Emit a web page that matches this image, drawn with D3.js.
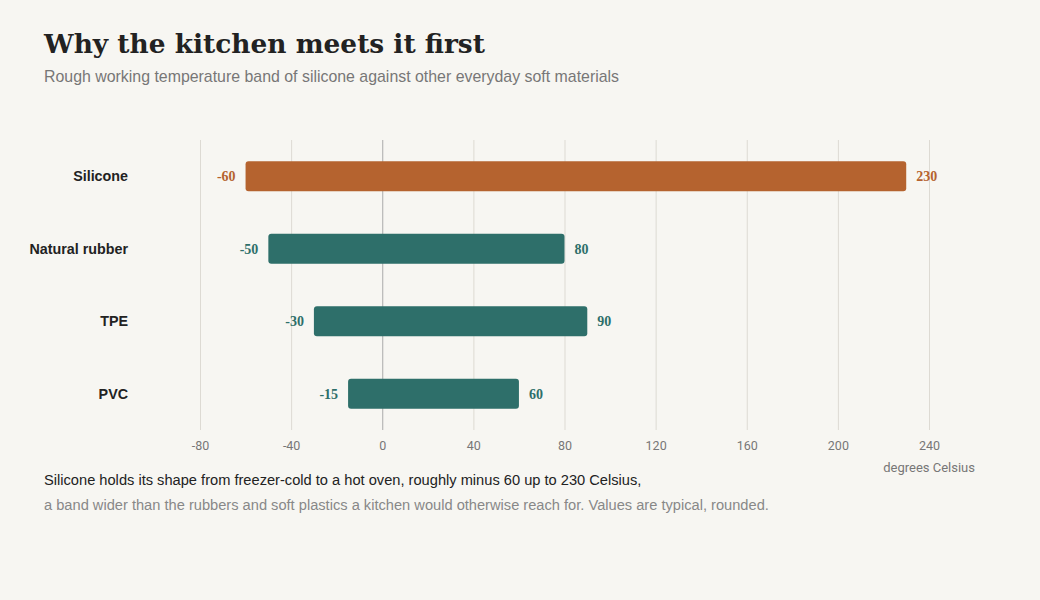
<!DOCTYPE html>
<html>
<head>
<meta charset="utf-8">
<script src="https://cdn.jsdelivr.net/npm/d3@7"></script>
<style>
  body { margin: 0; background: #f7f6f2; }
  svg { display: block; }
</style>
</head>
<body>
<svg id="chart"></svg>
<script>
var materials = ["Silicone", "Natural rubber", "TPE", "PVC"];
var lowTemps = [-60, -50, -30, -15];
var highTemps = [230, 80, 90, 60];
var tickValues = [-80, -40, 0, 40, 80, 120, 160, 200, 240];

var w = 1040, h = 600;
var orange = "#b5632f", teal = "#2e6f6a";

var svg = d3.select("#chart")
    .attr("width", w)
    .attr("height", h)
    .style("background-color", "#f7f6f2");

var rows = materials.map(function (m, i) {
    return { name: m, lo: lowTemps[i], hi: highTemps[i] };
});

var x = d3.scaleLinear().domain([-80, 240]).range([200, 929]);
var y = d3.scaleBand().domain(materials).range([140, 430])
    .paddingInner(0.586).paddingOuter(0.293);

// title block
svg.append("text")
    .attr("x", 44).attr("y", 53)
    .attr("font-family", "'DejaVu Serif', serif")
    .attr("font-weight", "bold")
    .attr("font-size", 26.4)
    .attr("fill", "#222")
    .text("Why the kitchen meets it first");

svg.append("text")
    .attr("x", 44).attr("y", 82)
    .attr("font-family", "'Liberation Sans', Arial, sans-serif")
    .attr("font-size", 15.9)
    .attr("fill", "#777")
    .text("Rough working temperature band of silicone against other everyday soft materials");

// grid
var xAxis = d3.axisBottom(x).tickValues(tickValues).tickSize(290)
    .tickFormat(function (d) { return String(d); });
var gx = svg.append("g")
    .attr("transform", "translate(0,140)")
    .call(xAxis);
gx.select(".domain").remove();
gx.selectAll(".tick line")
    .attr("stroke", function (d) { return d === 0 ? "#aaa" : "#dddad3"; })
    .attr("stroke-width", 1);
gx.selectAll(".tick text")
    .attr("y", 301)
    .attr("dy", "0.71em")
    .attr("fill", "#777")
    .attr("font-family", "Roboto, sans-serif")
    .attr("font-size", 12.5);

svg.append("text")
    .attr("x", 975).attr("y", 472)
    .attr("text-anchor", "end")
    .attr("font-family", "Roboto, sans-serif")
    .attr("font-size", 13)
    .attr("fill", "#777")
    .text("degrees Celsius");

// category labels
svg.selectAll(".cat")
    .data(rows)
    .join("text")
    .attr("class", "cat")
    .attr("x", 128)
    .attr("y", function (d) { return y(d.name) + y.bandwidth() / 2; })
    .attr("dy", "0.35em")
    .attr("text-anchor", "end")
    .attr("font-family", "'Liberation Sans', Arial, sans-serif")
    .attr("font-weight", "bold")
    .attr("font-size", 14.3)
    .attr("fill", "#222")
    .text(function (d) { return d.name; });

// bars
svg.selectAll(".bar")
    .data(rows)
    .join("rect")
    .attr("class", "bar")
    .attr("x", function (d) { return x(d.lo); })
    .attr("y", function (d) { return y(d.name); })
    .attr("width", function (d) { return x(d.hi) - x(d.lo); })
    .attr("height", y.bandwidth())
    .attr("rx", 3)
    .attr("fill", function (d, i) { return i === 0 ? orange : teal; });

// value labels
svg.selectAll(".lo")
    .data(rows)
    .join("text")
    .attr("class", "lo")
    .attr("x", function (d) { return x(d.lo) - 10; })
    .attr("y", function (d) { return y(d.name) + y.bandwidth() / 2; })
    .attr("dy", "0.35em")
    .attr("text-anchor", "end")
    .attr("font-family", "'Liberation Serif', serif")
    .attr("font-weight", "bold")
    .attr("font-size", 14)
    .attr("fill", function (d, i) { return i === 0 ? orange : teal; })
    .text(function (d) { return d.lo; });

svg.selectAll(".hi")
    .data(rows)
    .join("text")
    .attr("class", "hi")
    .attr("x", function (d) { return x(d.hi) + 10; })
    .attr("y", function (d) { return y(d.name) + y.bandwidth() / 2; })
    .attr("dy", "0.35em")
    .attr("font-family", "'Liberation Serif', serif")
    .attr("font-weight", "bold")
    .attr("font-size", 14)
    .attr("fill", function (d, i) { return i === 0 ? orange : teal; })
    .text(function (d) { return d.hi; });

// footnote
svg.append("text")
    .attr("x", 44).attr("y", 485)
    .attr("font-family", "'Liberation Sans', Arial, sans-serif")
    .attr("font-size", 14.65)
    .attr("fill", "#222")
    .text("Silicone holds its shape from freezer-cold to a hot oven, roughly minus 60 up to 230 Celsius,");

svg.append("text")
    .attr("x", 44).attr("y", 510)
    .attr("font-family", "'Liberation Sans', Arial, sans-serif")
    .attr("font-size", 14.65)
    .attr("fill", "#888")
    .text("a band wider than the rubbers and soft plastics a kitchen would otherwise reach for. Values are typical, rounded.");
</script>
</body>
</html>
